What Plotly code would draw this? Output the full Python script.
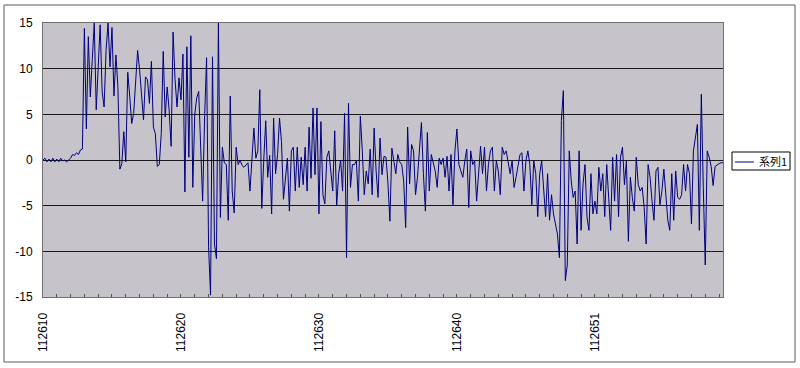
import plotly.graph_objects as go

# ---- data ----
series_name = "系列1"
values = [
    0.0, 0.2, -0.2, 0.1, -0.2, 0.2, -0.2, 0.1, -0.2, 0.2, -0.1, 0.0, -0.2, 0.0,
    0.2, 0.6, 0.5, 0.8, 0.6, 1.1, 1.2,
    14.4, 3.4, 13.5, 6.9, 11.0, 15.0, 5.5, 10.0, 14.8, 7.5, 5.8, 12.0, 15.0, 10.2, 14.5, 7.0, 11.5, 8.0,
    -1.0, -0.4, 3.1, -0.2, 9.6, 7.0, 4.0, 5.1, 9.0, 12.0, 9.9, 6.6, 4.4, 9.1, 8.8, 6.2, 10.8, 3.6, 2.9, -0.7, -0.5,
    2.9, 11.9, 4.7, 8.0, 5.5, 1.5, 14.0, 8.8, 5.8, 9.0, 6.6,
    11.6, -3.5, 12.4, 0.3, 13.6, -3.0, 5.0, 6.8, 7.5, 1.4, -4.5, 4.7, 11.2, -9.5, -14.8,
    11.3, -9.2, -10.8, 15.0, -6.3, 1.4, -0.3, -0.5, -6.6, 7.0, -3.4, -5.8, 1.4, -0.5,
    0.0, -0.6, -0.8, -0.6, -0.3, -3.4, 0.0, 3.5, 0.2, 1.0,
    7.7, -5.3, 0.0, 4.3, -1.9, 0.5, -5.9, 4.6, -1.5, 0.6,
    4.6, 2.0, -4.3, -2.3, 0.2, -5.6, 1.0, 1.4, -3.4, 1.4,
    -3.0, 0.3, -2.7, 1.4, -3.4, 3.6, -2.0, 5.7, -1.6, 5.7,
    -5.9, 4.2, -3.8, -4.8, 0.3, 1.0, -1.2, -3.4, 3.2, -5.0,
    -1.5, 0.0, -3.4, 5.1, -10.7, 6.2, -3.0, -0.5, -0.5, -0.1,
    -4.5, 4.8, 1.0, -3.8, -1.2, -2.6, 1.2, -3.8, 3.5, -1.2,
    -4.1, 2.4, -1.6, 0.4, 0.3, -2.5, -6.7, 1.3, -0.1, -1.5,
    0.6, -0.2, -0.5, -2.3, -7.4, 3.6, -2.6, 1.7, 1.0, -3.8,
    -1.9, 1.4, 4.1, -1.5, -5.6, 3.0, -3.4, 0.6, -0.2, -1.2,
    -3.0, 0.2, -0.5, 0.2, -1.9, 0.4, -3.4, 0.6, -4.9, 1.0,
    3.4, -0.5, -1.2, -1.9, -0.1, 1.2, -5.2, 1.0, -0.5, -0.1,
    -4.5, -1.9, 1.5, -1.5, 1.4, -3.4, -0.5, 1.0, 1.4, -3.4,
    -0.1, -1.2, -3.8, 1.4, 0.6, 1.0, -0.5, -1.5, -0.1, -3.0,
    -1.9, -0.5, 0.6, 0.8, -3.4, -0.1, 1.0, -0.5, -4.9, -0.1,
    -1.5, -6.2, -1.5, -0.1, -3.8, -6.2, -1.5, -6.6, -3.8, -5.9,
    -7.0, -8.1, -10.7, 4.3, 7.6, -13.2, -11.5, 1.0, -2.3, -4.1,
    -3.4, -9.2, 1.0, -7.7, -2.6, -0.5, -6.3, -7.7, -1.5, -5.9,
    -4.5, -5.9, -0.8, -3.4, -1.5, -6.2, -0.5, -4.9, -7.7, 0.3,
    -4.5, 0.6, -6.2, 0.3, 1.4, -2.7, -0.1, -8.9, -1.9, -4.1,
    -5.6, 0.3, -2.7, -3.4, -3.0, -5.2, -9.2, -0.5, -1.9, -4.5,
    -6.6, -1.2, -0.8, -4.9, -3.4, -1.0, -3.8, -6.6, -7.7, -1.5,
    -6.6, -1.2, -4.1, -4.3, -3.8, -0.5, -3.4, -0.5, -1.5, -7.0,
    1.0, 2.5, 3.9, -7.7, 7.2, -3.0, -11.5, 1.0, 0.3, -0.7,
    -2.8, -0.7, -0.5, -0.4, -0.3, -0.3,
]
x_labels = ["112610", "112620", "112630", "112640", "112651"]
x_label_pos = [0, 70, 140, 210, 280]
tick_step = 7
y_ticks = [-15, -10, -5, 0, 5, 10, 15]
y_ticktext = ["-15", "-10", "-5", "0", "5", "10", "15"]

n = len(values)
xs = list(range(n))

tickvals = list(range(0, n, tick_step))
ticktext = [x_labels[x_label_pos.index(t)] if t in x_label_pos else "" for t in tickvals]

fig = go.Figure()
fig.add_trace(go.Scatter(
    x=xs, y=values, mode="lines", name=series_name,
    line=dict(color="#000080", width=1), showlegend=False,
    hoverinfo="skip",
))

font_main = "Liberation Sans, Arial, sans-serif"

W, H = 800, 368
ml, mr, mt, mb = 43, 77, 23, 71
pw, ph = W - ml - mr, H - mt - mb


def px_x(px):
    return (px - ml) / pw


def px_y(py):
    return (H - mb - py) / ph


fig.update_layout(
    width=W, height=H,
    margin=dict(l=ml, r=mr, t=mt, b=mb, pad=0),
    paper_bgcolor="white",
    plot_bgcolor="#C6C4CA",
    font=dict(family=font_main, size=12, color="black"),
    xaxis=dict(
        range=[0, n - 1], tickmode="array", tickvals=tickvals, ticktext=ticktext,
        tickangle=-90, ticks="inside", ticklen=3, tickcolor="#505050",
        showgrid=False, zeroline=False, showline=True, linecolor="#707070",
        linewidth=1, mirror=True, ticklabelstandoff=10,
        tickfont=dict(family=font_main, size=12),
    ),
    yaxis=dict(
        range=[-15, 15], tickmode="array", tickvals=y_ticks, ticktext=y_ticktext,
        ticks="", showgrid=True, gridcolor="#1a1a1a", gridwidth=1,
        zeroline=False, showline=True, linecolor="#707070", linewidth=1,
        mirror=True, ticklabelstandoff=7,
        tickfont=dict(family=font_main, size=12),
    ),
    shapes=[
        # outer chart border
        dict(type="rect", xref="paper", yref="paper",
             x0=px_x(4), x1=px_x(795), y0=px_y(362), y1=px_y(5),
             line=dict(color="#5a5a5a", width=1), fillcolor="rgba(0,0,0,0)", layer="below"),
        # legend box
        dict(type="rect", xref="paper", yref="paper",
             x0=px_x(732), x1=px_x(790), y0=px_y(170), y1=px_y(152),
             line=dict(color="black", width=1), fillcolor="white"),
        # legend line sample
        dict(type="line", xref="paper", yref="paper",
             x0=px_x(735), x1=px_x(754), y0=px_y(162), y1=px_y(162),
             line=dict(color="#000080", width=1)),
    ],
    annotations=[
        dict(text=series_name, xref="paper", yref="paper",
             x=px_x(757), y=px_y(161), xanchor="left", yanchor="middle",
             showarrow=False, font=dict(family="Noto Sans CJK JP", size=11, color="black")),
    ],
)

fig.write_html("out.html")
